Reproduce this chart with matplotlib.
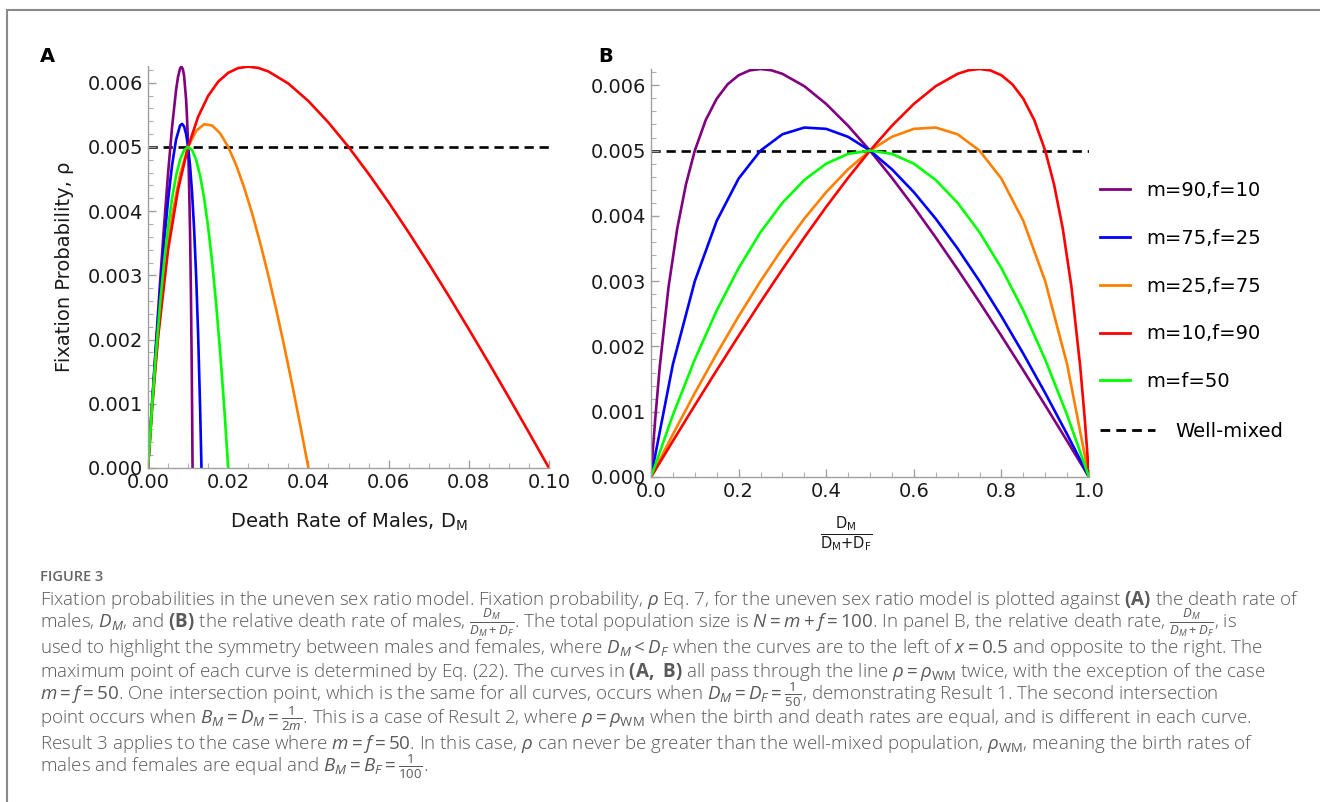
import matplotlib
matplotlib.use("Agg")
import matplotlib.pyplot as plt
from matplotlib.patches import Rectangle
from matplotlib.lines import Line2D
from matplotlib.ticker import MultipleLocator, FormatStrFormatter

# ---- data ----
well_mixed = 0.005

labels = ["m=90,f=10", "m=75,f=25", "m=25,f=75", "m=10,f=90", "m=f=50"]
colors = ["#800080", "#0000ff", "#ff8000", "#ff0000", "#00ff00"]

# panel A: death rate of males D_M vs fixation probability
dm_purple = [0, 0.001, 0.002, 0.003, 0.004, 0.005, 0.006, 0.007, 0.0075, 0.008, 0.00833, 0.0087,
             0.009, 0.0095, 0.0097, 0.0099, 0.0101, 0.0103, 0.0105, 0.0107, 0.0109, 0.0110, 0.01111]
rho_purple = [0, 0.000989, 0.001952, 0.002882, 0.003765, 0.004583, 0.005308, 0.005886, 0.006094,
              0.006222, 0.00625, 0.00621, 0.006107, 0.00574, 0.0055, 0.005188, 0.004787, 0.004272,
              0.003609, 0.002749, 0.001618, 0.000917, 0]

dm_blue = [0, 0.001, 0.002, 0.003, 0.004, 0.005, 0.006, 0.007, 0.008, 0.0085, 0.009, 0.0095,
           0.010, 0.0105, 0.011, 0.0115, 0.012, 0.0125, 0.013, 0.013333]
rho_blue = [0, 0.000974, 0.001889, 0.002735, 0.0035, 0.004167, 0.004714, 0.005115, 0.005333,
            0.005359, 0.005318, 0.005202, 0.005, 0.004697, 0.004278, 0.003721, 0.003, 0.002083,
            0.000929, 0]

dm_orange = [0, 0.001, 0.002, 0.004, 0.006, 0.008, 0.010, 0.012, 0.014, 0.016, 0.018, 0.020,
             0.022, 0.024, 0.026, 0.028, 0.030, 0.032, 0.034, 0.036, 0.038, 0.040]
rho_orange = [0, 0.000929, 0.001727, 0.003, 0.003923, 0.004571, 0.005, 0.00525, 0.005353,
              0.005333, 0.005211, 0.005, 0.004714, 0.004364, 0.003957, 0.0035, 0.003, 0.002462,
              0.001889, 0.001286, 0.000655, 0]

dm_red = [0, 0.001, 0.0025, 0.005, 0.0075, 0.010, 0.0125, 0.015, 0.0175, 0.020, 0.0225, 0.025,
          0.0275, 0.030, 0.035, 0.040, 0.045, 0.050, 0.055, 0.060, 0.065, 0.070, 0.075, 0.080,
          0.085, 0.090, 0.095, 0.100]
rho_red = [0, 0.000917, 0.002031, 0.003393, 0.004336, 0.005, 0.005469, 0.005795, 0.006016,
           0.006154, 0.006228, 0.00625, 0.00623, 0.006176, 0.005987, 0.005714, 0.00538, 0.005,
           0.004583, 0.004138, 0.003669, 0.003182, 0.002679, 0.002162, 0.001635, 0.001098,
           0.000552, 0]

dm_green = [0, 0.001, 0.002, 0.003, 0.004, 0.005, 0.006, 0.007, 0.008, 0.009, 0.010, 0.011,
            0.012, 0.013, 0.014, 0.015, 0.016, 0.017, 0.018, 0.019, 0.020]
rho_green = [0, 0.00095, 0.0018, 0.00255, 0.0032, 0.00375, 0.0042, 0.00455, 0.0048, 0.00495,
             0.005, 0.00495, 0.0048, 0.00455, 0.0042, 0.00375, 0.0032, 0.00255, 0.0018, 0.00095, 0]

# panel B: relative death rate D_M/(D_M+D_F)
rel_grid = [0.0, 0.05, 0.1, 0.15, 0.2, 0.25, 0.3, 0.35, 0.4, 0.45, 0.5, 0.55, 0.6, 0.65, 0.7,
            0.75, 0.8, 0.85, 0.9, 0.95, 1.0]

rel_purple = [0, 0.005, 0.01, 0.02, 0.04, 0.06, 0.08, 0.1, 0.125, 0.15, 0.175, 0.2, 0.225, 0.25,
              0.275, 0.3, 0.35, 0.4, 0.45, 0.5, 0.55, 0.6, 0.65, 0.7, 0.75, 0.8, 0.85, 0.9, 0.95, 1.0]
relrho_purple = [0, 0.000478, 0.000917, 0.00169, 0.002909, 0.003811, 0.004488, 0.005, 0.005469,
                 0.005795, 0.006016, 0.006154, 0.006228, 0.00625, 0.00623, 0.006176, 0.005987,
                 0.005714, 0.00538, 0.005, 0.004583, 0.004138, 0.003669, 0.003182, 0.002679,
                 0.002162, 0.001635, 0.001098, 0.000552, 0]

relrho_blue = [0, 0.001727, 0.003, 0.003923, 0.004571, 0.005, 0.00525, 0.005353, 0.005333,
               0.005211, 0.005, 0.004714, 0.004364, 0.003957, 0.0035, 0.003, 0.002462, 0.001889,
               0.001286, 0.000655, 0]

relrho_orange = [0, 0.000655, 0.001286, 0.001889, 0.002462, 0.003, 0.0035, 0.003957, 0.004364,
                 0.004714, 0.005, 0.005211, 0.005333, 0.005353, 0.00525, 0.005, 0.004571,
                 0.003923, 0.003, 0.001727, 0]

rel_red = [0, 0.05, 0.1, 0.15, 0.2, 0.25, 0.3, 0.35, 0.4, 0.45, 0.5, 0.55, 0.6, 0.65, 0.7, 0.725,
           0.75, 0.775, 0.8, 0.825, 0.85, 0.875, 0.9, 0.92, 0.94, 0.96, 0.98, 0.99, 0.995, 1.0]
relrho_red = [0, 0.000552, 0.001098, 0.001635, 0.002162, 0.002679, 0.003182, 0.003669, 0.004138,
              0.004583, 0.005, 0.00538, 0.005714, 0.005987, 0.006176, 0.00623, 0.00625, 0.006228,
              0.006154, 0.006016, 0.005795, 0.005469, 0.005, 0.004488, 0.003811, 0.002909,
              0.00169, 0.000917, 0.000478, 0]

relrho_green = [0, 0.00095, 0.0018, 0.00255, 0.0032, 0.00375, 0.0042, 0.00455, 0.0048, 0.00495,
                0.005, 0.00495, 0.0048, 0.00455, 0.0042, 0.00375, 0.0032, 0.00255, 0.0018,
                0.00095, 0]

caption_lines = [
    r"Fixation probabilities in the uneven sex ratio model. Fixation probability, $\rho$ Eq. 7, for the uneven sex ratio model is plotted against $\mathbf{(A)}$ the death rate of",
    r"males, $D_M$, and $\mathbf{(B)}$ the relative death rate of males, $\frac{D_M}{D_M+D_F}$. The total population size is $N = m + f = 100$. In panel B, the relative death rate, $\frac{D_M}{D_M+D_F}$, is",
    r"used to highlight the symmetry between males and females, where $D_M < D_F$ when the curves are to the left of $x = 0.5$ and opposite to the right. The",
    r"maximum point of each curve is determined by Eq. (22). The curves in $\mathbf{(A,\ B)}$ all pass through the line $\rho = \rho_{\mathrm{WM}}$ twice, with the exception of the case",
    r"$m = f = 50$. One intersection point, which is the same for all curves, occurs when $D_M = D_F = \frac{1}{50}$, demonstrating Result 1. The second intersection",
    r"point occurs when $B_M = D_M = \frac{1}{2m}$. This is a case of Result 2, where $\rho = \rho_{\mathrm{WM}}$ when the birth and death rates are equal, and is different in each curve.",
    r"Result 3 applies to the case where $m = f = 50$. In this case, $\rho$ can never be greater than the well-mixed population, $\rho_{\mathrm{WM}}$, meaning the birth rates of",
    r"males and females are equal and $B_M = B_F = \frac{1}{100}$.",
]

# ---- styling ----
plt.rcParams["mathtext.fontset"] = "custom"
plt.rcParams["mathtext.rm"] = "Open Sans"
plt.rcParams["mathtext.it"] = "Open Sans:italic"
plt.rcParams["mathtext.bf"] = "Open Sans:bold"
plt.rcParams["mathtext.sf"] = "Open Sans"

W, H = 1320, 802
fig = plt.figure(figsize=(W / 100, H / 100), dpi=100)

axA = fig.add_axes([148 / W, 1 - 468 / H, 401 / W, 402 / H])
axB = fig.add_axes([651 / W, 1 - 477 / H, 438 / W, 408 / H])

dash = (0, (3.5, 2.2))
axA.axhline(well_mixed, color="black", lw=1.9, ls=dash, zorder=1)
axB.axhline(well_mixed, color="black", lw=1.9, ls=dash, zorder=1)

series_a = [(dm_purple, rho_purple), (dm_blue, rho_blue), (dm_orange, rho_orange),
            (dm_red, rho_red), (dm_green, rho_green)]
series_b = [(rel_purple, relrho_purple), (rel_grid, relrho_blue), (rel_grid, relrho_orange),
            (rel_red, relrho_red), (rel_grid, relrho_green)]

for (xa, ya), (xb, yb), c in zip(series_a, series_b, colors):
    axA.plot(xa, ya, color=c, lw=1.9, zorder=2)
    axB.plot(xb, yb, color=c, lw=1.9, zorder=2)

axA.set_xlim(0, 0.1)
axA.set_ylim(0, 0.00626)
axB.set_xlim(0, 1)
axB.set_ylim(0, 0.00625)

axA.xaxis.set_major_locator(MultipleLocator(0.02))
axA.xaxis.set_minor_locator(MultipleLocator(0.005))
axA.xaxis.set_major_formatter(FormatStrFormatter("%.2f"))
axB.xaxis.set_major_locator(MultipleLocator(0.2))
axB.xaxis.set_minor_locator(MultipleLocator(0.05))
axB.xaxis.set_major_formatter(FormatStrFormatter("%.1f"))

for ax in (axA, axB):
    ax.yaxis.set_major_locator(MultipleLocator(0.001))
    ax.yaxis.set_minor_locator(MultipleLocator(0.0002))
    ax.yaxis.set_major_formatter(FormatStrFormatter("%.3f"))
    for s in ("top", "right"):
        ax.spines[s].set_visible(False)
    for s in ("left", "bottom"):
        ax.spines[s].set_color("#a0a0a0")
        ax.spines[s].set_linewidth(1.0)
    ax.tick_params(which="major", direction="in", length=6, width=1, color="#a0a0a0",
                   labelsize=14, labelcolor="#1a1a1a")
    ax.tick_params(which="minor", direction="in", length=3.5, width=0.8, color="#b0b0b0")

axA.set_ylabel("Fixation Probability, ρ", fontsize=14, color="#1a1a1a")
axA.yaxis.set_label_coords(-0.185, 0.5)
axA.set_xlabel(r"Death Rate of Males, D$_\mathrm{M}$", fontsize=14, color="#1a1a1a",
               math_fontfamily="dejavusans")
axA.xaxis.set_label_coords(0.5, -0.105)
axB.set_xlabel(r"$\frac{\mathrm{D_M}}{\mathrm{D_M{+}D_F}}$", fontsize=15, color="#1a1a1a",
               math_fontfamily="dejavusans")
axB.xaxis.set_label_coords(0.445, -0.092)

fig.text(40 / W, 1 - 57 / H, "A", fontsize=14, fontweight="bold", va="center")
fig.text(598 / W, 1 - 57 / H, "B", fontsize=14, fontweight="bold", va="center")

# legend
handles = [Line2D([], [], color=c, lw=2) for c in colors]
fig.legend(handles, labels, loc="upper left", bbox_to_anchor=(1100 / W, 1 - 181 / H),
           frameon=False, fontsize=14, handlelength=1.55, handletextpad=0.85,
           labelspacing=1.48, borderpad=0, borderaxespad=0)
fig.legend([Line2D([], [], color="black", lw=2, ls=dash)], ["Well-mixed"], loc="upper left",
           bbox_to_anchor=(1100 / W, 1 - 422 / H), frameon=False, fontsize=14,
           handlelength=2.85, handletextpad=1.0, borderpad=0, borderaxespad=0)

# frame and caption
fig.patches.append(Rectangle((7 / W, -0.2), 1.5, 1.2 - 10 / H, transform=fig.transFigure,
                             fill=False, edgecolor="#8a8a8a", lw=1.5))
fig.text(40 / W, 1 - 581 / H, "FIGURE 3", fontsize=10.5, color="#666666",
         family="Open Sans", weight="semibold")
for i, line in enumerate(caption_lines):
    fig.text(40 / W, 1 - (605 + 24 * i) / H, line, fontsize=13.5, color="#5a5a5a",
             family="Open Sans", weight="light", va="baseline", math_fontfamily="custom")

fig.savefig("out.png", dpi=100)
